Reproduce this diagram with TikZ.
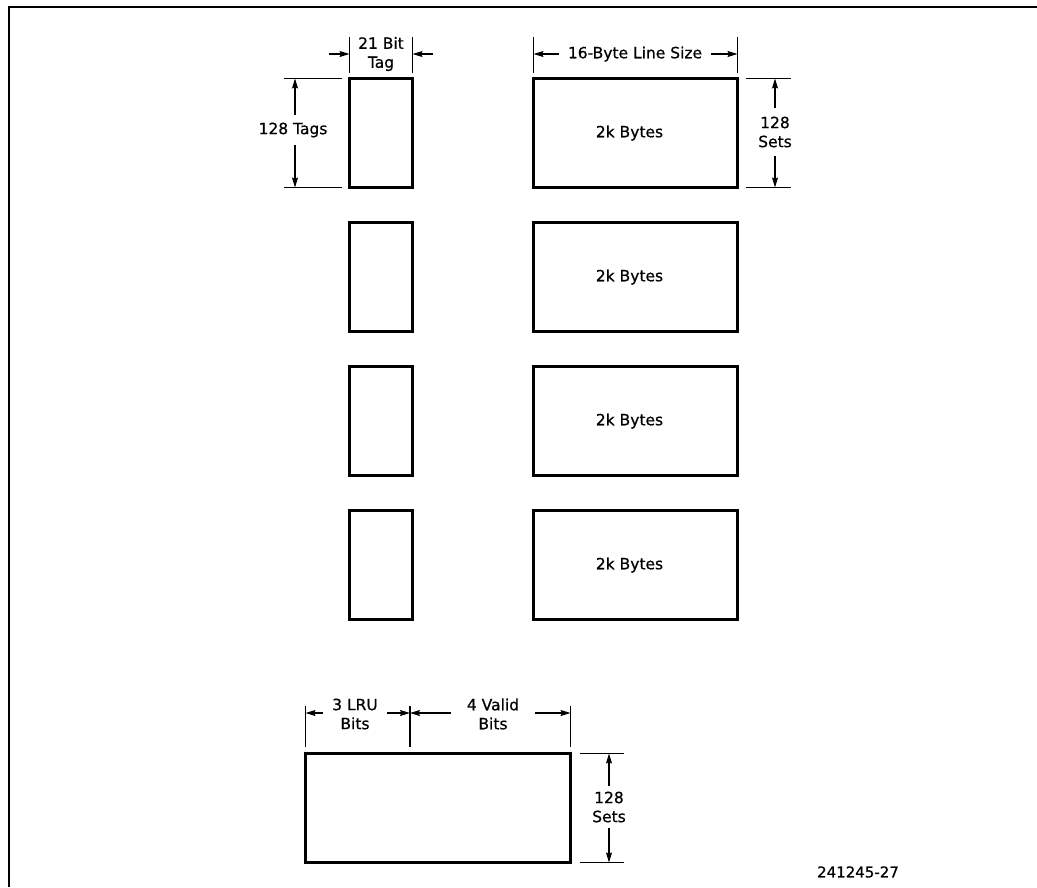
\documentclass[tikz,border=0pt]{standalone}
\usepackage{fontspec}
\setmainfont{DejaVu Sans}[FakeBold=0.6]
\usetikzlibrary{arrows.meta}
\begin{document}
\begin{tikzpicture}[x=1pt,y=-1pt,
  box/.style={draw, line width=3.2pt, inner sep=0pt, outer sep=0pt},
  tagbox/.style={box, minimum width=63pt, minimum height=109pt},
  databox/.style={box, minimum width=204pt, minimum height=109pt},
  boxtxt/.style={font=\fontsize{15.5}{19}\selectfont, inner sep=0pt},
  lbl/.style={font=\fontsize{15.5}{19}\selectfont, align=center, inner xsep=9pt, inner ysep=7pt},
  ext/.style={line width=1.2pt},
  dim/.style={line width=1.2pt, -{Stealth[length=10pt,width=6pt,inset=1.5pt]}}]
\useasboundingbox (0,0) rectangle (1037,887);
\draw[line width=1.8pt] (9,887) -- (9,7) -- (1037,7);

% tag boxes and data boxes
\foreach \i/\y in {1/133, 2/277, 3/421, 4/565} {
  \node[tagbox] (t\i) at (381,\y) {};
  \node[databox] (d\i) at (635.5,\y) {};
  \node[boxtxt] (d\i txt) at ([xshift=-6pt]d\i.center) {2k Bytes};
}

% 21 Bit Tag
\draw[ext] (349.5,37) -- (349.5,73);
\draw[ext] (412.5,37) -- (412.5,73);
\node[lbl, inner sep=1pt] (tagtxt) at (381,54) {21 Bit\\Tag};
\coordinate (tagLs) at (329,54);
\coordinate (tagLe) at (349.5,54);
\coordinate (tagRs) at (433,54);
\coordinate (tagRe) at (412.5,54);
\draw[dim] (tagLs) -- (tagLe);
\draw[dim] (tagRs) -- (tagRe);

% 128 Tags
\draw[ext] (284,78.5) -- (342,78.5);
\draw[ext] (284,187.5) -- (342,187.5);
\node[lbl] (tagsn) at (293,130) {128 Tags};
\coordinate (tagsT) at (295,78.5);
\coordinate (tagsB) at (295,187.5);
\draw[dim] (tagsn.north -| tagsT) -- (tagsT);
\draw[dim] (tagsn.south -| tagsB) -- (tagsB);

% 16-Byte Line Size
\draw[ext] (533.5,37) -- (533.5,73);
\draw[ext] (737.5,37) -- (737.5,73);
\node[lbl] (line) at (635,54) {16-Byte Line Size};
\coordinate (lineL) at (533.5,54);
\coordinate (lineR) at (737.5,54);
\draw[dim] (line.west) -- (lineL);
\draw[dim] (line.east) -- (lineR);

% 128 Sets (top right)
\draw[ext] (746,78.5) -- (791,78.5);
\draw[ext] (746,187.5) -- (791,187.5);
\node[lbl, inner ysep=8pt] (sets1) at (775,132) {128\\Sets};
\coordinate (s1T) at (775,78.5);
\coordinate (s1B) at (775,187.5);
\draw[dim] (sets1.north) -- (s1T);
\draw[dim] (sets1.south) -- (s1B);

% bottom box
\node[box, minimum width=265pt, minimum height=109pt] (lru) at (438,808) {};
\draw[ext] (305.5,706) -- (305.5,747);
\draw[ext] (410,706) -- (410,747);
\draw[ext] (570.5,706) -- (570.5,747);
\node[lbl] (lrutxt) at (355,714) {3 LRU\\Bits};
\node[lbl, inner xsep=16pt] (valtxt) at (493,714) {4 Valid\\Bits};
\coordinate (b1) at (305.5,713);
\coordinate (b2) at (410,713);
\coordinate (b3) at (570.5,713);
\draw[dim] (lrutxt.west |- b1) -- (b1);
\draw[dim] (lrutxt.east |- b2) -- (b2);
\draw[dim] (valtxt.west |- b2) -- (b2);
\draw[dim] (valtxt.east |- b3) -- (b3);

% 128 Sets (bottom)
\draw[ext] (580,753.5) -- (624,753.5);
\draw[ext] (580,862.5) -- (624,862.5);
\node[lbl, inner ysep=5pt] (sets2) at (609,807) {128\\Sets};
\coordinate (s2T) at (609,753.5);
\coordinate (s2B) at (609,862.5);
\draw[dim] (sets2.north) -- (s2T);
\draw[dim] (sets2.south) -- (s2B);

% figure number
\node[font=\fontsize{15}{18}\selectfont, inner sep=0pt] (fig) at (858,872) {241245-27};
\end{tikzpicture}
\end{document}
